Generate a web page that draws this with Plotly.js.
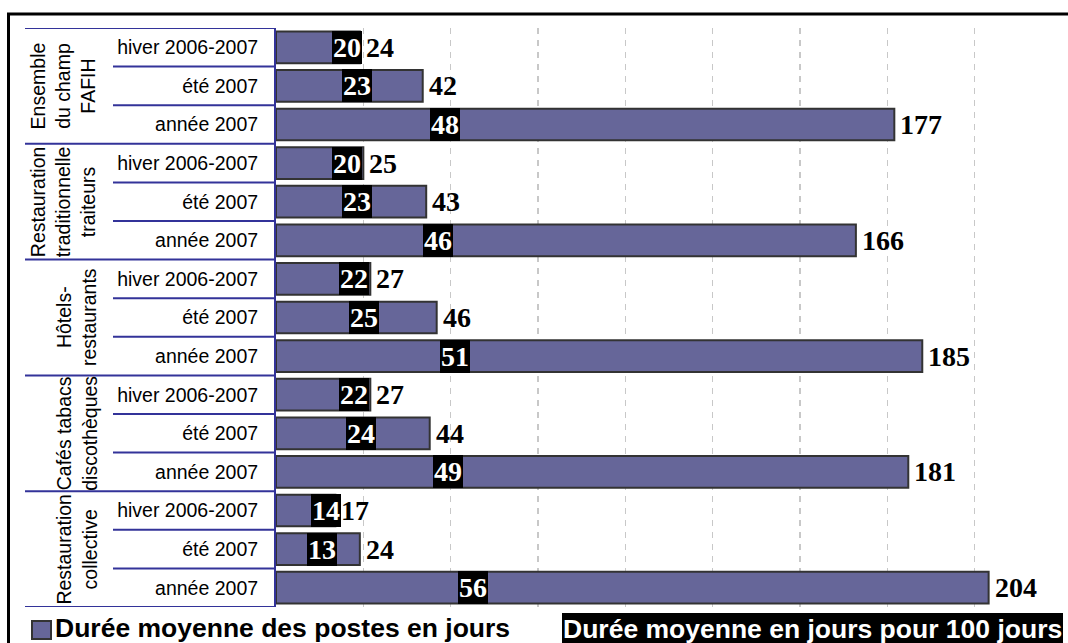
<!DOCTYPE html>
<html><head><meta charset="utf-8">
<script src="https://cdn.plot.ly/plotly-3.0.1.min.js"></script>
<style>html,body{margin:0;padding:0;background:#fff}#chart{width:1068px;height:643px}</style>
</head><body><div id="chart"></div>
<script>
// ---- data ----
const groups = ["Ensemble<br>du champ<br>FAFIH", "Restauration<br>traditionnelle<br>traiteurs", "Hôtels-<br>restaurants", "Cafés tabacs<br>discothèques", "Restauration<br>collective"];
const periods = ["hiver 2006-2007", "été 2007", "année 2007"];
const dureePostes = [24, 42, 177, 25, 43, 166, 27, 46, 185, 27, 44, 181, 17, 24, 204];
const dureePour100 = [20, 23, 48, 20, 23, 46, 22, 25, 51, 22, 24, 49, 14, 13, 56];
const legendLabels = ["Durée moyenne des postes en jours", "Durée moyenne en jours pour 100 jours"];

// ---- layout helpers ----
const W = 1068, H = 643, L = 276, R = 6, T = 28, B = 36;
const pw = W - L - R, ph = H - T - B;
const px = v => (v - L) / pw;          // pixel x -> paper x
const py = v => (H - B - v) / ph;      // pixel y -> paper y

const SANS = "Arial, 'Liberation Sans', sans-serif";
const SERIF = "'Times New Roman', 'Liberation Serif', serif";
const BAR = '#666699', BLUE = '#333399';

const rowIdx = dureePostes.map((_, i) => i);
const rowLabels = rowIdx.map(i => periods[i % periods.length]);

const barTrace = {
  type: 'bar', orientation: 'h',
  x: dureePostes, y: rowIdx,
  marker: {color: BAR, line: {color: '#333333', width: 2}},
  name: legendLabels[0], showlegend: false, hoverinfo: 'x'
};

const annotations = [];
// value labels at bar ends
dureePostes.forEach((v, i) => {
  annotations.push({xref: 'x', yref: 'y', x: v, y: i, text: String(v), showarrow: false,
    xanchor: 'left', yanchor: 'middle', xshift: 4,
    font: {family: SERIF, size: 28, color: '#000', weight: 'bold'}});
});
// black boxed labels (per 100 days)
dureePour100.forEach((v, i) => {
  annotations.push({xref: 'x', yref: 'y', x: v, y: i, text: String(v), showarrow: false,
    xanchor: 'center', yanchor: 'middle', xshift: 1, bgcolor: '#000', borderpad: 1, borderwidth: 0,
    font: {family: SERIF, size: 28, color: '#fff', weight: 'bold'}});
});
// group labels
groups.forEach((g, k) => {
  annotations.push({xref: 'paper', yref: 'y', x: px(102), y: k * 3 + 1, text: g, showarrow: false,
    textangle: -90, xanchor: 'right', yanchor: 'middle', align: 'center',
    font: {family: SANS, size: 19.5, color: '#000'}});
});
// legend
annotations.push({xref: 'paper', yref: 'paper', x: px(54), y: py(612), text: '<b>' + legendLabels[0] + '</b>',
  showarrow: false, xanchor: 'left', yanchor: 'top', borderpad: 1, borderwidth: 0,
  font: {family: SANS, size: 26.5, color: '#000'}});
annotations.push({xref: 'paper', yref: 'paper', x: px(562), y: py(613), text: '<b>' + legendLabels[1] + '</b>',
  showarrow: false, xanchor: 'left', yanchor: 'top', borderpad: 1, borderwidth: 0, bgcolor: '#000',
  font: {family: SANS, size: 26.5, color: '#fff'}});

const shapes = [];
// outer frame (left + top)
shapes.push({type: 'line', xref: 'paper', yref: 'paper', x0: px(8.5), x1: px(8.5), y0: py(14), y1: py(660), line: {color: '#000', width: 3}});
shapes.push({type: 'line', xref: 'paper', yref: 'paper', x0: px(7), x1: px(1080), y0: py(14), y1: py(14), line: {color: '#000', width: 3}});
// row separators
for (let k = 0; k <= dureePostes.length; k++) {
  const major = k % 3 === 0;
  shapes.push({type: 'line', xref: 'paper', yref: 'y', x0: px(major ? 25 : 113), x1: 0, y0: k - 0.5, y1: k - 0.5,
    line: {color: BLUE, width: 2}});
}
// legend swatch
shapes.push({type: 'rect', xref: 'paper', yref: 'paper', x0: px(32), x1: px(51), y0: py(621), y1: py(639),
  fillcolor: BAR, line: {color: '#333333', width: 2}});

const layout = {
  width: W, height: H,
  margin: {l: L, r: R, t: T, b: B, pad: 0},
  paper_bgcolor: '#fff', plot_bgcolor: '#fff',
  bargap: 0.18, showlegend: false,
  xaxis: {range: [0, 225], dtick: 25, tick0: 0, showgrid: true, gridcolor: '#c8c8c8', gridwidth: 1.5,
    griddash: '6px,6px', zeroline: false, showticklabels: false, ticks: '', showline: false, fixedrange: true},
  yaxis: {range: [dureePostes.length - 0.5, -0.5], tickmode: 'array', tickvals: rowIdx, ticktext: rowLabels,
    showgrid: false, zeroline: false, showline: true, linecolor: BLUE, linewidth: 2, ticks: '',
    ticklabelstandoff: 12, tickfont: {family: SANS, size: 19.5, color: '#000'}, fixedrange: true},
  annotations: annotations, shapes: shapes
};

Plotly.newPlot('chart', [barTrace], layout, {displayModeBar: false, staticPlot: true});
</script></body></html>
